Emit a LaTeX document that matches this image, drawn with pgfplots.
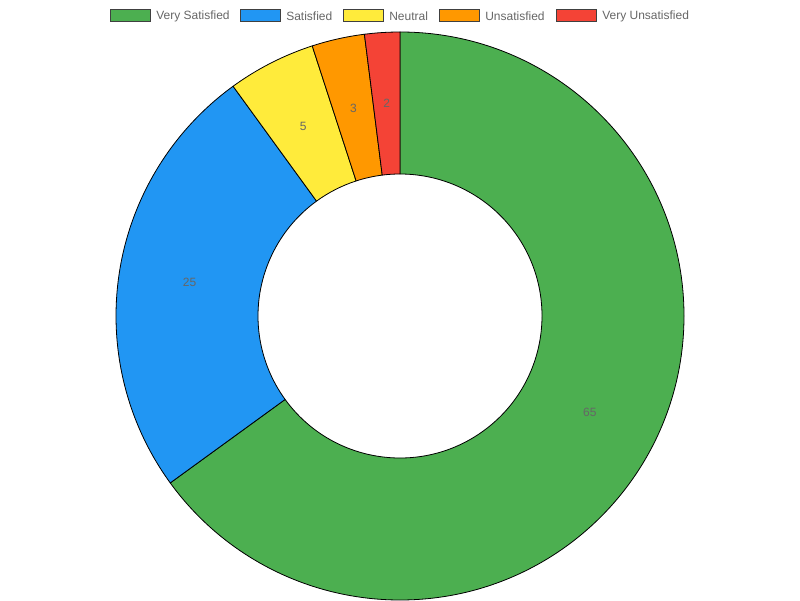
\documentclass[border=0pt]{standalone}
\usepackage{pgfplots}
\usepackage{pgfplotstable}
\pgfplotsset{compat=1.18}
\usepackage{fontspec}
\setmainfont{Liberation Sans}
\definecolor{c0}{HTML}{4CAF50}
\definecolor{c1}{HTML}{2196F3}
\definecolor{c2}{HTML}{FFEB3B}
\definecolor{c3}{HTML}{FF9800}
\definecolor{c4}{HTML}{F44336}
\definecolor{txt}{HTML}{666666}
\pgfplotstableread[col sep=comma]{
label,value
Very Satisfied,65
Satisfied,25
Neutral,5
Unsatisfied,3
Very Unsatisfied,2
}\data
\begin{document}
\begin{tikzpicture}
\begin{axis}[x=0.75pt,y=0.75pt,xmin=0,xmax=800,ymin=0,ymax=600,
  hide axis,clip=false,scale only axis]
\path (axis cs:0,0) rectangle (axis cs:800,600);
\gdef\cum{0}
\pgfplotsforeachungrouped \i in {0,...,4}{%
  \pgfplotstablegetelem{\i}{value}\of\data
  \let\val\pgfplotsretval
  \pgfmathsetmacro\a{90-3.6*\cum}%
  \pgfmathsetmacro\b{90-3.6*(\cum+\val)}%
  \pgfmathsetmacro\m{(\a+\b)/2}%
  \pgfmathsetmacro\xa{400+284*cos(\a)}%
  \pgfmathsetmacro\ya{284+284*sin(\a)}%
  \pgfmathsetmacro\xb{400+142*cos(\b)}%
  \pgfmathsetmacro\yb{284+142*sin(\b)}%
  \pgfmathsetmacro\xm{400+213*cos(\m)}%
  \pgfmathsetmacro\ym{284+213*sin(\m)}%
  \pgfmathsetmacro\cumnew{\cum+\val}%
  \edef\temp{\noexpand\filldraw[fill=c\i,draw=black,line width=0.6pt,line join=round]
    (axis cs:\xa,\ya) arc[start angle=\a,end angle=\b,radius=213pt]
    -- (axis cs:\xb,\yb) arc[start angle=\b,end angle=\a,radius=106.5pt] -- cycle;
    \noexpand\node[text=txt,font=\noexpand\fontsize{9}{10}\noexpand\selectfont] at (axis cs:\xm,\ym) {\val};}%
  \temp
  \global\let\cum\cumnew
}
% legend
\pgfplotsforeachungrouped \i in {0,...,4}{%
  \pgfplotstablegetelem{\i}{label}\of\data
  \let\lab\pgfplotsretval
  \pgfmathsetmacro\bx{{110,240,343,439,556}[\i]}%
  \pgfmathsetmacro\tx{{156,286,389,485,602}[\i]}%
  \pgfmathsetmacro\bxe{\bx+40}%
  \edef\temp{\noexpand\filldraw[fill=c\i,draw=black!75,line width=0.75pt] (axis cs:\bx,578) rectangle (axis cs:\bxe,590);
  \noexpand\node[anchor=west,inner sep=0pt,text=txt,font=\noexpand\fontsize{9}{10}\noexpand\selectfont] at (axis cs:\tx,584) {\lab};}%
  \temp
}
\end{axis}
\end{tikzpicture}
\end{document}
